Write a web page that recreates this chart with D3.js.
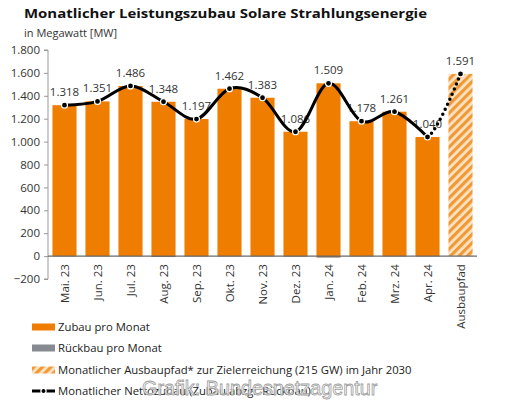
<!DOCTYPE html>
<html><head><meta charset="utf-8">
<script src="https://cdn.jsdelivr.net/npm/d3@7"></script>
<style>
body{margin:0;background:#fff;}
svg{display:block;font-family:"Open Sans",sans-serif;}
</style></head>
<body>
<svg id="c" width="512" height="404"></svg>
<script>
const categories = ["Mai. 23","Jun. 23","Jul. 23","Aug. 23","Sep. 23","Okt. 23","Nov. 23","Dez. 23","Jan. 24","Feb. 24","Mrz. 24","Apr. 24","Ausbaupfad"];
const zubau = [1318,1351,1486,1348,1197,1462,1383,1086,1509,1178,1261,1040];
const rueckbau = [-3,-2,-2,-8,-3,-3,-3,-4,-12,-3,-3,-3];
const ausbaupfad = 1591;
const netto = [1318,1351,1486,1348,1197,1462,1383,1086,1509,1178,1261,1040];
const labels = ["1.318","1.351","1.486","1.348","1.197","1.462","1.383","1.086","1.509","1.178","1.261","1.040","1.591"];
const yTicks = [-200,0,200,400,600,800,1000,1200,1400,1600,1800];
const legendItems = ["Zubau pro Monat","Rückbau pro Monat","Monatlicher Ausbaupfad* zur Zielerreichung (215 GW) im Jahr 2030","Monatlicher Nettozubau (Zubau abzgl. Rückbau)"];

const ORANGE = "#ee7d00";
const svg = d3.select("#c");
const de = d3.formatLocale({decimal:",",thousands:".",grouping:[3],currency:["","€"]});
const fmt = de.format(",d");

const x = d3.scaleBand().domain(categories).range([48,477]).paddingInner(0.27).paddingOuter(0.135);
const y = d3.scaleLinear().domain([-200,1800]).range([279,50]);

const defs = svg.append("defs");
const pat = defs.append("pattern").attr("id","hatch").attr("patternUnits","userSpaceOnUse")
  .attr("width",6).attr("height",6).attr("patternTransform","rotate(45)");
pat.append("rect").attr("width",6).attr("height",6).attr("fill","#fbe3c6");
pat.append("rect").attr("width",3.2).attr("height",6).attr("fill","#f19a35");

// title
svg.append("text").attr("x",24).attr("y",18).attr("font-size",13.2).attr("font-weight","bold").attr("fill","#111")
  .attr("textLength",403).attr("lengthAdjust","spacingAndGlyphs")
  .text("Monatlicher Leistungszubau Solare Strahlungsenergie");
svg.append("text").attr("x",24).attr("y",37).attr("font-size",11).attr("fill","#333").text("in Megawatt [MW]");

// y axis
const yAxis = d3.axisLeft(y).tickValues(yTicks).tickFormat(fmt).tickSize(4).tickPadding(4);
const ga = svg.append("g").attr("transform","translate(48,0)").call(yAxis);
ga.selectAll("text").attr("font-size",11.5).attr("fill","#333").attr("font-family","Open Sans");
ga.selectAll("line,path").attr("stroke","#999");
ga.select(".domain").attr("d",`M-4,${y(1800)}H0V${y(-200)}H-4`);

// bars
svg.append("g").selectAll("rect").data(zubau).join("rect")
  .attr("x",(d,i)=>x(categories[i])).attr("width",x.bandwidth())
  .attr("y",d=>y(d)).attr("height",d=>y(0)-y(d)).attr("fill",ORANGE);
svg.append("g").selectAll("rect").data(rueckbau).join("rect")
  .attr("x",(d,i)=>x(categories[i])).attr("width",x.bandwidth())
  .attr("y",y(0)).attr("height",d=>y(d)-y(0)).attr("fill","#7a5a40");
svg.append("rect").attr("x",x("Ausbaupfad")).attr("width",x.bandwidth())
  .attr("y",y(ausbaupfad)).attr("height",y(0)-y(ausbaupfad)).attr("fill","url(#hatch)");

// zero line
svg.append("line").attr("x1",48).attr("x2",477).attr("y1",y(0)).attr("y2",y(0)).attr("stroke","#6b6b6b").attr("stroke-width",1.2);

// x labels
const cx = c => x(c)+x.bandwidth()/2;
svg.append("g").selectAll("text").data(categories).join("text")
  .attr("transform",c=>`translate(${cx(c)+4},${y(0)+8}) rotate(-90)`)
  .attr("text-anchor","end").attr("font-size",11.5).attr("fill","#333").text(c=>c);

// value labels
const allVals = netto.concat([ausbaupfad]);
svg.append("g").selectAll("text").data(allVals).join("text")
  .attr("x",(d,i)=>cx(categories[i])).attr("y",d=>y(d)-9)
  .attr("text-anchor","middle").attr("font-size",11.5).attr("fill","#333").text((d,i)=>labels[i]);

// lines
const pts = allVals.map((d,i)=>[cx(categories[i]),y(d)]);
const line = d3.line().curve(d3.curveCardinal.tension(0));
svg.append("path").attr("d",line(pts.slice(0,12))).attr("fill","none").attr("stroke","#000").attr("stroke-width",3);
defs.append("clipPath").attr("id","clipd").append("rect").attr("x",pts[11][0]).attr("y",0).attr("width",100).attr("height",404);
svg.append("path").attr("d",line(pts.slice(10,13))).attr("clip-path","url(#clipd)").attr("fill","none")
  .attr("stroke","#000").attr("stroke-width",3.5).attr("stroke-linecap","round").attr("stroke-dasharray","0 5.5");
svg.append("g").selectAll("circle").data(pts).join("circle")
  .attr("cx",d=>d[0]).attr("cy",d=>d[1]).attr("r",3).attr("fill","#000").attr("stroke","#fff").attr("stroke-width",1.2);

// legend
const lg = svg.append("g");
const ly = [327,348,370,391];
lg.append("rect").attr("x",32).attr("y",ly[0]-3.5).attr("width",23).attr("height",7).attr("fill",ORANGE);
lg.append("rect").attr("x",32).attr("y",ly[1]-3.5).attr("width",23).attr("height",7).attr("fill","#858b90");
lg.append("rect").attr("x",32).attr("y",ly[2]-3.5).attr("width",23).attr("height",7).attr("fill","url(#hatch)");
lg.append("line").attr("x1",32).attr("x2",55).attr("y1",ly[3]).attr("y2",ly[3]).attr("stroke","#000").attr("stroke-width",3);
lg.append("circle").attr("cx",43.5).attr("cy",ly[3]).attr("r",2.6).attr("fill","#000").attr("stroke","#fff").attr("stroke-width",1.2);
lg.selectAll("text.l").data(legendItems).join("text").attr("class","l")
  .attr("x",58).attr("y",(d,i)=>ly[i]+4.2).attr("font-size",11.3).attr("fill","#222").text(d=>d);

// watermark
svg.append("text").attr("x",142).attr("y",395).attr("font-size",19.8).attr("font-family","Liberation Sans, sans-serif")
  .attr("fill","#fff").attr("fill-opacity",0.85).attr("stroke","#a0a0a0").attr("stroke-width",0.8)
  .text("Grafik: Bundesnetzagentur");
</script>
</body></html>
